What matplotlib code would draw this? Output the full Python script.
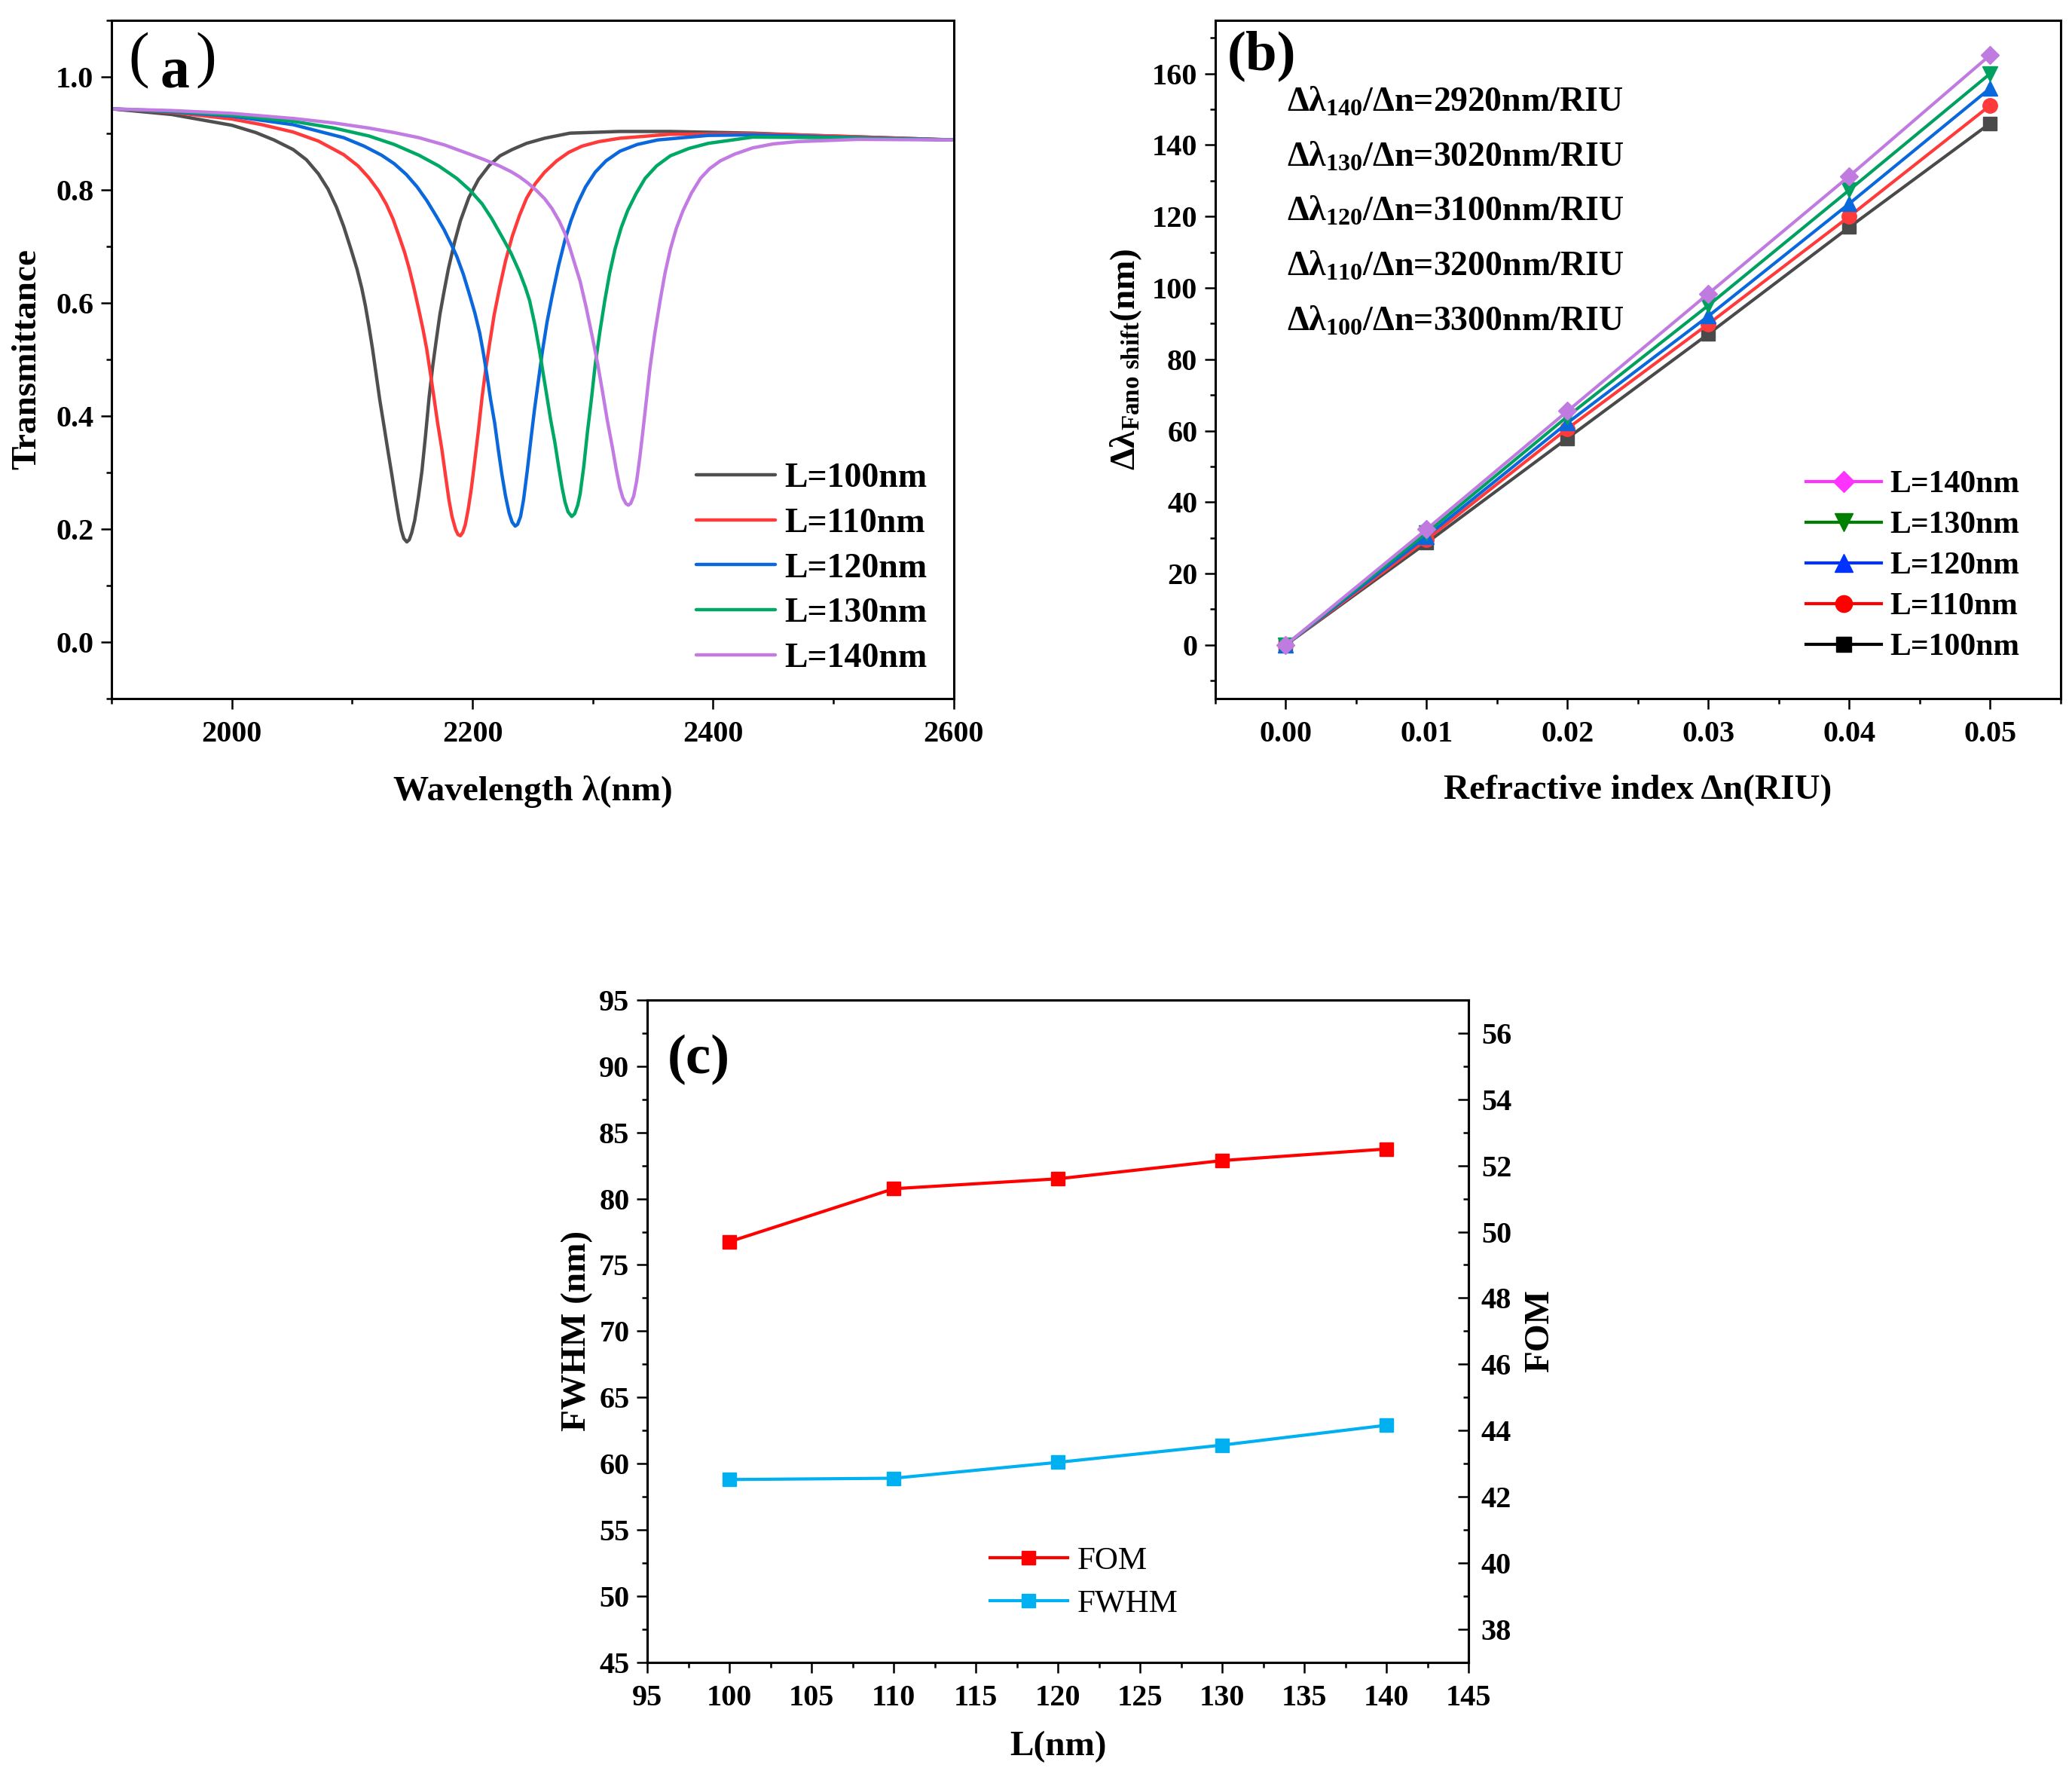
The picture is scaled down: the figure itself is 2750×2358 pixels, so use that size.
import matplotlib
matplotlib.use("Agg")
import matplotlib.pyplot as plt
from matplotlib.ticker import MultipleLocator, FormatStrFormatter
from matplotlib.lines import Line2D

plt.rcParams['font.family'] = ['Liberation Serif', 'Noto Sans CJK SC']
plt.rcParams['font.weight'] = 'bold'
plt.rcParams['axes.labelweight'] = 'bold'
plt.rcParams['mathtext.fontset'] = 'custom'
plt.rcParams['mathtext.rm'] = 'Liberation Serif:bold'
plt.rcParams['mathtext.it'] = 'Liberation Serif:bold'
plt.rcParams['mathtext.bf'] = 'Liberation Serif:bold'

# ---- panel (a): transmittance spectra ----
lam_100 = [1900, 1950, 2000, 2020, 2035, 2051, 2062, 2072, 2080, 2087, 2093, 2099, 2104, 2108, 2111,
           2114, 2117, 2120, 2123, 2126.5, 2130, 2133, 2136, 2139, 2141, 2143, 2145.5, 2147.5,
           2149.5, 2152, 2155, 2158, 2161, 2164, 2167, 2170, 2173, 2176.5, 2180, 2185, 2190, 2197,
           2205, 2214, 2223, 2233, 2245, 2260, 2281, 2322, 2364, 2433, 2482, 2600]
T_100 = [0.943, 0.933, 0.914, 0.901, 0.888, 0.871, 0.853, 0.828, 0.801, 0.769, 0.735, 0.695, 0.660,
         0.626, 0.595, 0.558, 0.518, 0.473, 0.428, 0.382, 0.335, 0.296, 0.255, 0.217, 0.197, 0.183,
         0.177, 0.181, 0.193, 0.215, 0.255, 0.302, 0.365, 0.433, 0.488, 0.535, 0.580, 0.621, 0.660,
         0.706, 0.745, 0.786, 0.818, 0.843, 0.860, 0.871, 0.882, 0.891, 0.900, 0.903, 0.903, 0.900,
         0.896, 0.888]

lam_110 = [1900, 1950, 2000, 2025, 2051, 2072, 2093, 2105, 2114, 2122, 2128.5, 2134, 2139, 2143.5,
           2147.5, 2151.5, 2155.5, 2159, 2162, 2165, 2168, 2171, 2174.5, 2177.5, 2180.5, 2183, 2186,
           2188, 2190, 2192, 2194, 2196.5, 2199, 2201.5, 2205, 2208, 2211, 2214, 2218, 2222.5,
           2227.5, 2233, 2239, 2245, 2252, 2260, 2270, 2280, 2291, 2305, 2322.5, 2364, 2433, 2500,
           2600]
T_110 = [0.943, 0.937, 0.925, 0.915, 0.902, 0.886, 0.862, 0.842, 0.821, 0.798, 0.774, 0.748, 0.718,
         0.690, 0.660, 0.625, 0.587, 0.552, 0.518, 0.476, 0.433, 0.388, 0.342, 0.296, 0.251, 0.222,
         0.199, 0.190, 0.188, 0.194, 0.207, 0.235, 0.270, 0.313, 0.375, 0.433, 0.482, 0.524, 0.578,
         0.626, 0.674, 0.717, 0.754, 0.785, 0.810, 0.831, 0.851, 0.866, 0.877, 0.885, 0.891, 0.898,
         0.899, 0.895, 0.888]

lam_120 = [1900, 1950, 2000, 2051, 2093, 2110, 2124.5, 2135, 2145, 2154, 2162, 2170, 2176.5, 2182,
           2187, 2192.5, 2197.5, 2202, 2206, 2209, 2212, 2215, 2218.5, 2221.5, 2224.5, 2227.5,
           2230.5, 2233, 2235.5, 2237.5, 2240, 2242.5, 2245.5, 2248.5, 2251.5, 2255, 2258, 2262,
           2266.5, 2271.5, 2277, 2282, 2287, 2294, 2302, 2311, 2322.5, 2337, 2354, 2396, 2433, 2500,
           2600]
T_120 = [0.943, 0.938, 0.930, 0.915, 0.892, 0.877, 0.861, 0.846, 0.827, 0.805, 0.781, 0.753, 0.729,
         0.705, 0.682, 0.650, 0.615, 0.582, 0.547, 0.512, 0.473, 0.430, 0.387, 0.340, 0.296, 0.258,
         0.228, 0.212, 0.205, 0.208, 0.222, 0.252, 0.302, 0.357, 0.410, 0.465, 0.512, 0.566, 0.615,
         0.665, 0.712, 0.746, 0.774, 0.805, 0.831, 0.851, 0.868, 0.880, 0.888, 0.896, 0.897, 0.893,
         0.888]

lam_130 = [1900, 1950, 2000, 2051, 2085, 2114, 2135, 2155.5, 2172, 2187, 2198, 2208, 2216, 2224.5,
           2232, 2239, 2244, 2247.5, 2252, 2256, 2259, 2262, 2265, 2268.5, 2271.5, 2274.5, 2277,
           2279.5, 2282.5, 2285, 2287.5, 2289.5, 2292.5, 2295.5, 2299, 2302, 2306, 2310, 2314,
           2318.5, 2323.5, 2329, 2336, 2343.5, 2353, 2364.5, 2380, 2396, 2433, 2500, 2600]
T_130 = [0.943, 0.939, 0.932, 0.921, 0.909, 0.895, 0.880, 0.861, 0.842, 0.820, 0.799, 0.775, 0.749,
         0.717, 0.688, 0.655, 0.627, 0.604, 0.560, 0.512, 0.472, 0.433, 0.393, 0.353, 0.312, 0.273,
         0.247, 0.230, 0.222, 0.227, 0.242, 0.262, 0.310, 0.370, 0.432, 0.490, 0.550, 0.604, 0.652,
         0.695, 0.732, 0.763, 0.793, 0.820, 0.842, 0.860, 0.873, 0.882, 0.893, 0.892, 0.888]

lam_140 = [1900, 1950, 2000, 2051, 2085, 2114, 2135, 2155.5, 2177, 2197.5, 2210, 2222.5, 2232, 2239,
           2246, 2253, 2260, 2266, 2272, 2277, 2281, 2285, 2289.5, 2294.5, 2299.5, 2304, 2308, 2312,
           2316.5, 2319.5, 2322.5, 2325, 2327.5, 2329.5, 2331.5, 2334, 2336.5, 2339, 2341.5, 2344.5,
           2347.5, 2351.5, 2356, 2360, 2364.5, 2369.5, 2375, 2382, 2389.5, 2397, 2406, 2418, 2433,
           2450, 2470, 2520, 2600]
T_140 = [0.943, 0.940, 0.935, 0.926, 0.918, 0.909, 0.901, 0.892, 0.879, 0.863, 0.853, 0.842, 0.832,
         0.823, 0.812, 0.799, 0.784, 0.767, 0.745, 0.722, 0.697, 0.669, 0.638, 0.592, 0.541, 0.493,
         0.444, 0.393, 0.342, 0.305, 0.273, 0.255, 0.245, 0.242, 0.245, 0.258, 0.285, 0.325, 0.370,
         0.427, 0.484, 0.545, 0.604, 0.652, 0.695, 0.732, 0.763, 0.794, 0.820, 0.837, 0.851, 0.863,
         0.874, 0.881, 0.885, 0.889, 0.888]

labels_a = ['L=100nm', 'L=110nm', 'L=120nm', 'L=130nm', 'L=140nm']
colors_a = ['#4f4f4f', '#ff3a3a', '#0a68dc', '#00a865', '#c27be3']

# ---- panel (b): Fano dip shift vs refractive index change ----
dn = [0.00, 0.01, 0.02, 0.03, 0.04, 0.05]
shift_140 = [0, 32.4, 65.5, 98.4, 131.3, 165.2]
shift_130 = [0, 31.4, 64.0, 95.1, 127.4, 160.0]
shift_120 = [0, 30.4, 62.2, 92.1, 123.6, 155.9]
shift_110 = [0, 29.5, 60.6, 89.9, 120.0, 151.1]
shift_100 = [0, 28.6, 57.9, 87.1, 117.0, 146.1]
sens_text = ['140', '130', '120', '110', '100']
sens_vals = ['2920', '3020', '3100', '3200', '3300']

# ---- panel (c): FWHM and FOM vs L ----
L_nm = [100, 110, 120, 130, 140]
FOM = [49.7, 51.3, 51.6, 52.15, 52.5]
FWHM = [58.8, 58.9, 60.1, 61.4, 62.9]

TICK = 29
LAB = 34


def style_axis(ax):
    for s in ax.spines.values():
        s.set_linewidth(2.2)
    ax.tick_params(which='major', length=10, width=1.8, labelsize=TICK)
    ax.tick_params(which='minor', length=5, width=1.8)
    ax.tick_params(axis='x', which='both', direction='out', top=False, pad=11)
    ax.tick_params(axis='y', which='both', direction='out', right=False, pad=7)


fig = plt.figure(figsize=(27.5, 23.58), dpi=100)

# ---------------- (a) ----------------
ax1 = fig.add_axes([0.0538, 0.6069, 0.4065, 0.3818])
curves = [(lam_100, T_100), (lam_110, T_110), (lam_120, T_120), (lam_130, T_130), (lam_140, T_140)]
for (x, y), c, lb in zip(curves, colors_a, labels_a):
    ax1.plot(x, y, color=c, lw=3.2, label=lb, solid_capstyle='round', solid_joinstyle='round')
ax1.set_xlim(1900, 2600)
ax1.set_ylim(-0.1, 1.1)
ax1.xaxis.set_major_locator(MultipleLocator(200))
ax1.xaxis.set_minor_locator(MultipleLocator(100))
ax1.yaxis.set_major_locator(MultipleLocator(0.2))
ax1.yaxis.set_minor_locator(MultipleLocator(0.1))
ax1.yaxis.set_major_formatter(FormatStrFormatter('%.1f'))
style_axis(ax1)
ax1.set_xlabel('Wavelength λ(nm)', fontsize=LAB, labelpad=26)
ax1.set_ylabel('Transmittance', fontsize=LAB, labelpad=12)
ax1.text(0.020, 0.918, '(', transform=ax1.transAxes, fontsize=60, fontweight='normal',
         va='baseline', ha='left')
ax1.text(0.058, 0.901, 'a', transform=ax1.transAxes, fontsize=56, fontweight='bold',
         va='baseline', ha='left')
ax1.text(0.100, 0.918, ')', transform=ax1.transAxes, fontsize=60, fontweight='normal',
         va='baseline', ha='left')
ax1.legend(loc='lower right', bbox_to_anchor=(0.968, 0.035), frameon=False, fontsize=33,
           handlelength=2.3, handletextpad=0.25, labelspacing=0.39, borderpad=0, borderaxespad=0)

# ---------------- (b) ----------------
ax2 = fig.add_axes([0.5865, 0.6069, 0.408, 0.3818])
series_b = [(shift_100, '#4a4a4a', 's', 13, '#000000'),
            (shift_110, '#ff3a3a', 'o', 14, '#ff0000'),
            (shift_120, '#0a68dc', '^', 15, '#0033ff'),
            (shift_130, '#00a060', 'v', 15, '#008000'),
            (shift_140, '#c07be0', 'D', 12, '#ff33ff')]
for ys, c, m, ms, _ in series_b:
    ax2.plot(dn, ys, color=c, lw=3.0, marker=m, ms=ms, mec=c, mfc=c)
ax2.set_xlim(-0.005, 0.055)
ax2.set_ylim(-15, 175)
ax2.xaxis.set_major_locator(MultipleLocator(0.01))
ax2.xaxis.set_minor_locator(MultipleLocator(0.005))
ax2.xaxis.set_major_formatter(FormatStrFormatter('%.2f'))
ax2.yaxis.set_major_locator(MultipleLocator(20))
ax2.yaxis.set_minor_locator(MultipleLocator(10))
style_axis(ax2)
ax2.set_xlabel('Refractive index Δn(RIU)', fontsize=LAB, labelpad=25)
ax2.set_ylabel(r'Δλ$_{\mathrm{Fano\ shift}}$(nm)', fontsize=LAB, labelpad=8)
ax2.text(0.014, 0.985, '(b)', transform=ax2.transAxes, fontsize=54, fontweight='bold',
         va='top', ha='left')
for i, (sub, val) in enumerate(zip(sens_text, sens_vals)):
    ax2.text(0.085, 0.866 - 0.081 * i, 'Δλ$_{%s}$/Δn=%snm/RIU' % (sub, val),
             transform=ax2.transAxes, fontsize=33, fontweight='bold', va='baseline', ha='left')
handles_b = []
labels_b = []
for (ys, c, m, ms, lc), lb in zip(series_b[::-1], labels_a[::-1]):
    handles_b.append(Line2D([], [], color=lc, lw=3.0, marker=m, ms=ms + 2, mec=lc, mfc=lc))
    labels_b.append(lb)
ax2.legend(handles_b, labels_b, loc='lower right', bbox_to_anchor=(0.951, 0.054), frameon=False,
           fontsize=30, handlelength=2.4, handletextpad=0.27, labelspacing=0.38, borderpad=0,
           borderaxespad=0, numpoints=1)

# ---------------- (c) ----------------
ax3 = fig.add_axes([0.3124, 0.0645, 0.3964, 0.3728])
l_fwhm, = ax3.plot(L_nm, FWHM, color='#00b0f0', lw=3.0, marker='s', ms=13, label='FWHM')
ax3.set_xlim(95, 145)
ax3.set_ylim(45, 95)
ax3.xaxis.set_major_locator(MultipleLocator(5))
ax3.xaxis.set_minor_locator(MultipleLocator(2.5))
ax3.yaxis.set_major_locator(MultipleLocator(5))
ax3.yaxis.set_minor_locator(MultipleLocator(2.5))
style_axis(ax3)
ax3.set_xlabel('L(nm)', fontsize=LAB, labelpad=18)
ax3.set_ylabel('FWHM (nm)', fontsize=LAB, labelpad=6)
ax3.text(0.024, 0.948, '(c)', transform=ax3.transAxes, fontsize=54, fontweight='bold',
         va='top', ha='left')

ax4 = ax3.twinx()
l_fom, = ax4.plot(L_nm, FOM, color='#ff0000', lw=3.0, marker='s', ms=13, label='FOM')
ax4.set_ylim(37, 57)
ax4.yaxis.set_major_locator(MultipleLocator(2))
ax4.yaxis.set_minor_locator(MultipleLocator(1))
for s in ax4.spines.values():
    s.set_linewidth(2.2)
ax4.tick_params(axis='y', which='major', direction='in', length=10, width=1.8, labelsize=TICK, pad=12)
ax4.tick_params(axis='y', which='minor', direction='in', length=5, width=1.8)
ax4.set_ylabel('FOM', fontsize=LAB, labelpad=12)
ax4.legend([l_fom, l_fwhm], ['FOM', 'FWHM'], loc='lower left', bbox_to_anchor=(0.417, 0.066),
           frameon=False, prop={'family': 'Liberation Serif', 'weight': 'normal', 'size': 31},
           handlelength=2.4, handletextpad=0.3, labelspacing=0.42, borderpad=0, borderaxespad=0,
           numpoints=1)

fig.savefig('out.png', dpi=100)
